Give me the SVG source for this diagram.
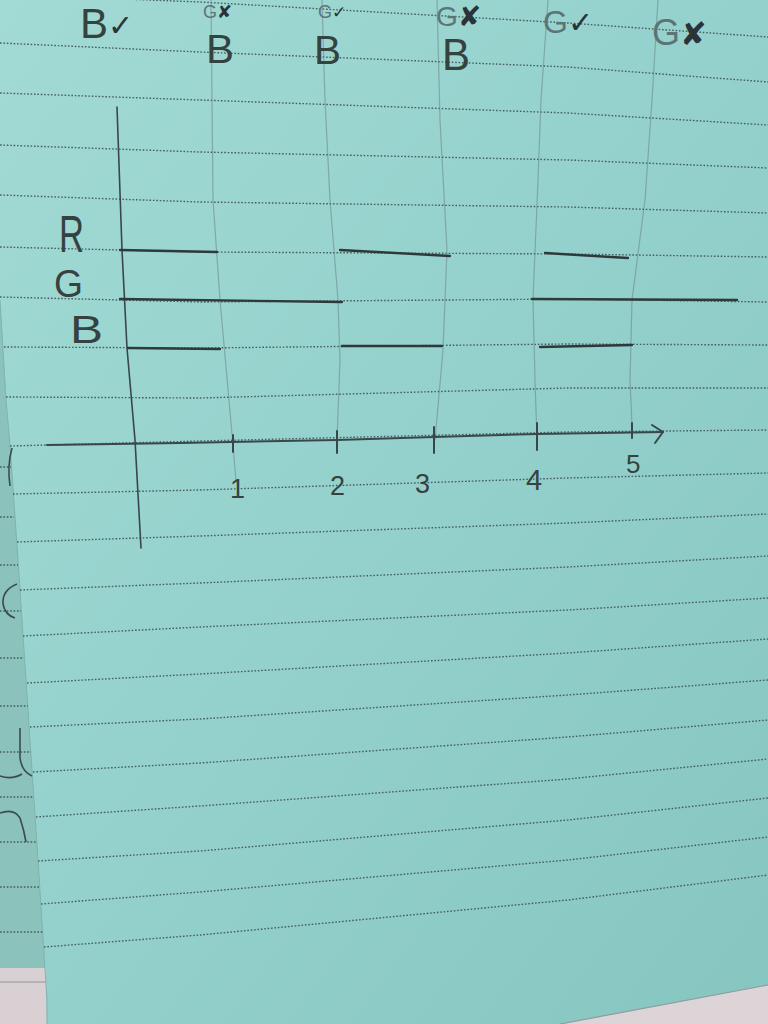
<svg xmlns="http://www.w3.org/2000/svg" width="768" height="1024" viewBox="0 0 768 1024">
<defs>
<linearGradient id="paper" x1="0" y1="0" x2="1" y2="1">
<stop offset="0" stop-color="#a2dad5"/>
<stop offset="0.5" stop-color="#94d1cc"/>
<stop offset="1" stop-color="#86c5c0"/>
</linearGradient>
<style>
.dot{fill:none;stroke:#3a4a4d;stroke-width:1.4;stroke-dasharray:1.6 1.8;opacity:0.85}
.guide{fill:none;stroke:#6a8487;stroke-width:1.2;opacity:0.55}
.sig{fill:none;stroke:#2d393b;stroke-width:2.3;stroke-linecap:round}
.axis{fill:none;stroke:#3a474a;stroke-width:2;stroke-linecap:round;stroke-linejoin:round}
.hand{font-family:"Liberation Sans","DejaVu Sans",sans-serif;fill:#35423f}
.faint{fill:#5d7477}
.mark{fill:#2a3436;font-family:"DejaVu Sans",sans-serif}
.hole{fill:none;stroke:#3c4a4d;stroke-width:1.6}
</style>
</defs>

<g id="background">
<rect x="0" y="0" width="768" height="1024" fill="url(#paper)"/>
<path d="M0,300 L6,400 L10,445 L18,560 L38,860 L47,1000 L47,1024 L0,1024 Z" fill="#8bc2bc"/>
<path d="M0,968 L46,968 L47,1024 L0,1024 Z" fill="#d8d0d3"/>
<line x1="0" y1="982" x2="46" y2="982" stroke="#9a9497" stroke-width="1.2"/>
<path d="M560,1024 L768,985 L768,1024 Z" fill="#dcd4d6"/>
<line x1="560" y1="1024" x2="768" y2="985" stroke="#8e9a9c" stroke-width="1.2"/>
<path d="M0,300 L6,400 L10,445 L18,560 L38,860 L47,1000 L47,1024" fill="none" stroke="#7fb3ae" stroke-width="1"/>
</g>

<g id="back-page">
<path class="dot" d="M0,467 L11,467 M0,517 L14,517 M0,565 L18,565 M0,611 L21,611 M0,658 L24,658 M0,706 L28,706 M0,752 L31,752 M0,797 L34,797 M0,842 L37,842 M0,887 L40,887 M0,932 L43,932"/>
<path class="hole" d="M12,448 Q7,466 10,486"/>
<path class="hole" d="M17,584 Q2,590 3,604 Q5,615 15,618"/>
<path class="hole" d="M20,728 L20,758 Q22,772 32,776 M0,776 Q12,780 22,774"/>
<path class="hole" d="M0,813 Q14,808 20,818 Q24,830 26,842"/>
</g>

<g id="ruled-lines">
<path class="dot" d="M0,-6 L200,2 L568,23 L768,37"/>
<path class="dot" d="M0,43 L200,52 L568,67 L768,82"/>
<path class="dot" d="M0,93 L200,100 L568,113 L768,125"/>
<path class="dot" d="M0,145 L200,152 L568,160 L768,168"/>
<path class="dot" d="M0,195 L200,202 L568,207 L768,213"/>
<path class="dot" d="M0,247 L200,252 L568,254 L768,257"/>
<path class="dot" d="M0,297 L200,302 L568,299 L768,302"/>
<path class="dot" d="M4,347 L200,348 L568,344 L768,345"/>
<path class="dot" d="M6,397 L200,398 L568,388 L768,388"/>
<path class="dot" d="M10,446 L200,441 L568,432 L768,430"/>
<path class="dot" d="M13,494 L200,490 L568,478 L768,473"/>
<path class="dot" d="M17,542 L200,536 L568,523 L768,514"/>
<path class="dot" d="M20,590 L200,583 L568,567 L768,556"/>
<path class="dot" d="M23,636 L200,627 L568,610 L768,598"/>
<path class="dot" d="M27,683 L200,674 L568,653 L768,639"/>
<path class="dot" d="M30,727 L200,719 L568,695 L768,680"/>
<path class="dot" d="M33,772 L200,763 L568,737 L768,720"/>
<path class="dot" d="M36,817 L200,806 L568,779 L768,759"/>
<path class="dot" d="M38,861 L200,851 L568,820 L768,798"/>
<path class="dot" d="M41,904 L200,892 L568,860 L768,837"/>
<path class="dot" d="M44,947 L200,935 L568,900 L768,875"/>
</g>

<g id="guides">
<path class="guide" d="M211,0 L213,200 L220,300 L233,445 L236,482"/>
<path class="guide" d="M322,0 L325,100 L330,200 L338,300 L340,360 L337,440"/>
<path class="guide" d="M437,0 L440,120 L447,250 L443,350 L435,440"/>
<path class="guide" d="M548,0 L541,100 L538,180 L533,300 L535,380 L537,440"/>
<path class="guide" d="M658,0 L652,100 L645,200 L632,300 L630,380 L632,425"/>
</g>

<g id="axes">
<path class="axis" style="stroke-width:1.6" d="M117,107 L122,250 L127,348 L135,440 L141,548"/>
<path class="axis" d="M47,445 L180,443 L337,440 L434,437 L537,434 L663,432"/>
<path class="axis" d="M652,425 L663,432 L655,443"/>
<path class="axis" d="M233,435 L233,452 M337,431 L337,453 M434,427 L434,453 M537,423 L537,450 M632,423 L632,438"/>
</g>

<g id="signal-R">
<path class="sig" d="M120,250 L217,252"/>
<path class="sig" d="M340,250 L450,256"/>
<path class="sig" d="M545,253 L628,258"/>
</g>
<g id="signal-G">
<path class="sig" d="M120,299 L342,302"/>
<path class="sig" d="M532,299 L737,300"/>
</g>
<g id="signal-B">
<path class="sig" d="M128,348 L220,349"/>
<path class="sig" d="M342,346 L442,346"/>
<path class="sig" d="M540,347 L632,345"/>
</g>

<g id="row-labels">
<text class="hand" x="59" y="252" font-size="52" textLength="25" lengthAdjust="spacingAndGlyphs">R</text>
<text class="hand" x="54" y="297" font-size="38" textLength="29" lengthAdjust="spacingAndGlyphs">G</text>
<text class="hand" x="70" y="343" font-size="38" textLength="33" lengthAdjust="spacingAndGlyphs">B</text>
</g>

<g id="tick-labels">
<text class="hand" x="230" y="498" font-size="27">1</text>
<text class="hand" x="330" y="495" font-size="27">2</text>
<text class="hand" x="415" y="493" font-size="27">3</text>
<text class="hand" x="526" y="490" font-size="29">4</text>
<text class="hand" x="626" y="473" font-size="26">5</text>
</g>

<g id="top-labels">
<text class="hand" x="80" y="38" font-size="42">B<tspan class="mark" font-size="30" dy="-2">✓</tspan></text>
<text class="hand" x="203" y="18" font-size="18"><tspan class="faint">G</tspan><tspan class="mark" font-size="18">✘</tspan></text>
<text class="hand" x="206" y="63" font-size="41" textLength="28" lengthAdjust="spacingAndGlyphs">B</text>
<text class="hand" x="318" y="18" font-size="18"><tspan class="faint">G</tspan><tspan class="mark" font-size="17">✓</tspan></text>
<text class="hand" x="314" y="64" font-size="41" textLength="27" lengthAdjust="spacingAndGlyphs">B</text>
<text class="hand" x="436" y="26" font-size="28"><tspan class="faint">G</tspan><tspan class="mark" font-size="28">✘</tspan></text>
<text class="hand" x="442" y="70" font-size="44" textLength="28" lengthAdjust="spacingAndGlyphs">B</text>
<text class="hand" x="543" y="33" font-size="32"><tspan class="faint">G</tspan><tspan class="mark" font-size="30">✓</tspan></text>
<text class="hand" x="652" y="45" font-size="36"><tspan class="faint">G</tspan><tspan class="mark" font-size="32">✘</tspan></text>
</g>
</svg>
